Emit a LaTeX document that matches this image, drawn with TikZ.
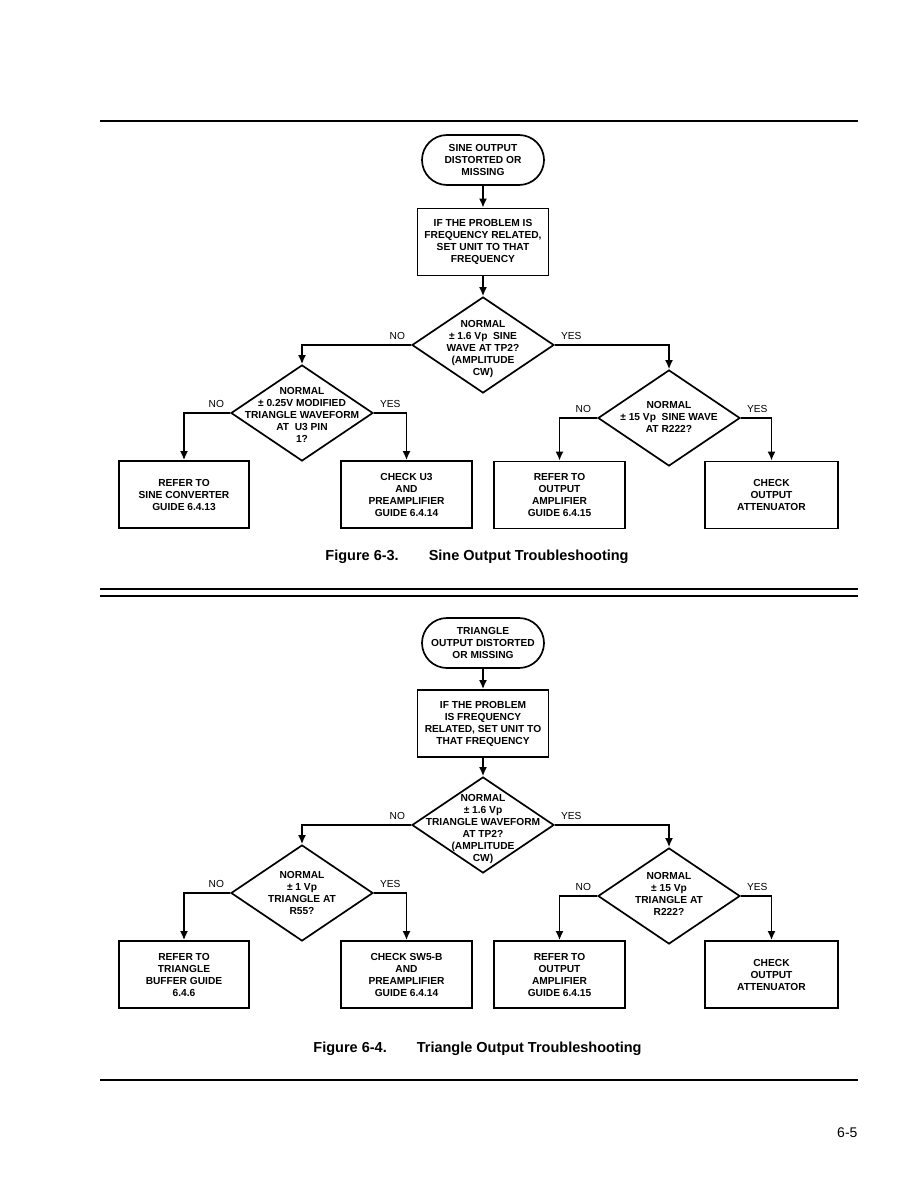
\documentclass[tikz,border=0pt]{standalone}
\usepackage{fontspec}
\setmainfont{Liberation Sans}
\usetikzlibrary{shapes.geometric, shapes.misc, arrows.meta, positioning}

\begin{document}
\begin{tikzpicture}[x=1pt, y=-1pt,
    flowtext/.style={font=\fontsize{10.2}{12}\selectfont\bfseries, align=center},
    term/.style={flowtext, draw, line width=1.7pt, rounded rectangle, minimum width=122pt, minimum height=50pt, inner sep=0pt},
    procbox/.style={flowtext, draw, line width=1.8pt, minimum width=131pt, minimum height=67pt, inner sep=0pt},
    decision/.style={draw, diamond, line width=1.7pt, minimum width=142pt, minimum height=96pt, inner sep=0pt},
    yesno/.style={font=\fontsize{10.2}{12}\selectfont},
    arr/.style={line width=1.7pt, -{Latex[length=9pt, width=8pt]}},
    rule/.style={line width=1.9pt},
    caption/.style={font=\fontsize{14.5}{16}\selectfont\bfseries}]

\useasboundingbox (0,0) rectangle (918,1188);

% Rules
\draw[rule] (100,121) -- (858,121);
\draw[rule] (100,589) -- (858,589);
\draw[rule] (100,596) -- (858,596);
\draw[rule] (100,1080) -- (858,1080);

% Figure 6-3: sine output
\node[term] (sinestart) at (483,160) {SINE OUTPUT\\DISTORTED OR\\MISSING};
\node[procbox] (sinefreq) at (483,242) {IF THE PROBLEM IS\\FREQUENCY RELATED,\\SET UNIT TO THAT\\FREQUENCY};
\node[decision] (sinetp) at (483,345) {};
\node[flowtext] (sinetptext) at (483,349) {NORMAL\\± 1.6 Vp\ \ SINE\\WAVE AT TP2?\\(AMPLITUDE\\CW)};
\node[decision] (sineu) at (302,413) {};
\node[flowtext] (sineutext) at (302,415) {NORMAL\\± 0.25V MODIFIED\\TRIANGLE WAVEFORM\\AT\ \ U3 PIN\\1?};
\node[decision] (siner) at (669,418) {};
\node[flowtext] (sinertext) at (669,417) {NORMAL\\± 15 Vp\ \ SINE WAVE\\AT R222?};

\node[procbox, minimum width=130pt] (sineconv) at (184,494.5) {REFER TO\\SINE CONVERTER\\GUIDE 6.4.13};
\node[procbox] (sinepre) at (406.5,494.5) {CHECK U3\\AND\\PREAMPLIFIER\\GUIDE 6.4.14};
\node[procbox] (sineamp) at (559.5,495) {REFER TO\\OUTPUT\\AMPLIFIER\\GUIDE 6.4.15};
\node[procbox, minimum width=133pt] (sineatt) at (771.5,495) {CHECK\\OUTPUT\\ATTENUATOR};

\draw[arr] (sinestart) -- (sinefreq);
\draw[arr] (sinefreq) -- (sinetp);
\draw[arr] (sinetp.west) -| node[yesno, pos=0, anchor=south east, xshift=-2pt, yshift=1pt] {NO} (sineu.north);
\draw[arr] (sinetp.east) -| node[yesno, pos=0, anchor=south west, xshift=2pt, yshift=1pt] {YES} (siner.north);
\draw[arr] (sineu.west) -| node[yesno, pos=0, anchor=south east, xshift=-2pt, yshift=1pt] {NO} (sineconv.north);
\draw[arr] (sineu.east) -| node[yesno, pos=0, anchor=south west, xshift=2pt, yshift=1pt] {YES} (sinepre.north);
\draw[arr] (siner.west) -| node[yesno, pos=0, anchor=south east, xshift=-2pt, yshift=1pt] {NO} (sineamp.north);
\draw[arr] (siner.east) -| node[yesno, pos=0, anchor=south west, xshift=2pt, yshift=1pt] {YES} (sineatt.north);

\node[caption] (sinecap) at (477,557) {Figure 6-3.\hspace{30pt}Sine Output Troubleshooting};

% Figure 6-4: triangle output
\node[term] (tristart) at (483,643) {TRIANGLE\\OUTPUT DISTORTED\\OR MISSING};
\node[procbox] (trifreq) at (483,723.5) {IF THE PROBLEM\\IS FREQUENCY\\RELATED, SET UNIT TO\\THAT FREQUENCY};
\node[decision] (tritp) at (483,825) {};
\node[flowtext] (tritptext) at (483,829) {NORMAL\\± 1.6 Vp\\TRIANGLE WAVEFORM\\AT TP2?\\(AMPLITUDE\\CW)};
\node[decision] (trir55) at (302,893) {};
\node[flowtext] (trir55text) at (302,893) {NORMAL\\± 1 Vp\\TRIANGLE AT\\R55?};
\node[decision] (trir) at (669,896) {};
\node[flowtext] (trirtext) at (669,894) {NORMAL\\± 15 Vp\\TRIANGLE AT\\R222?};

\node[procbox, minimum width=130pt] (tribuf) at (184,974.5) {REFER TO\\TRIANGLE\\BUFFER GUIDE\\6.4.6};
\node[procbox] (tripre) at (406.5,974.5) {CHECK SW5-B\\AND\\PREAMPLIFIER\\GUIDE 6.4.14};
\node[procbox] (triamp) at (559.5,974.5) {REFER TO\\OUTPUT\\AMPLIFIER\\GUIDE 6.4.15};
\node[procbox, minimum width=133pt] (triatt) at (771.5,974.5) {CHECK\\OUTPUT\\ATTENUATOR};

\draw[arr] (tristart) -- (trifreq);
\draw[arr] (trifreq) -- (tritp);
\draw[arr] (tritp.west) -| node[yesno, pos=0, anchor=south east, xshift=-2pt, yshift=1pt] {NO} (trir55.north);
\draw[arr] (tritp.east) -| node[yesno, pos=0, anchor=south west, xshift=2pt, yshift=1pt] {YES} (trir.north);
\draw[arr] (trir55.west) -| node[yesno, pos=0, anchor=south east, xshift=-2pt, yshift=1pt] {NO} (tribuf.north);
\draw[arr] (trir55.east) -| node[yesno, pos=0, anchor=south west, xshift=2pt, yshift=1pt] {YES} (tripre.north);
\draw[arr] (trir.west) -| node[yesno, pos=0, anchor=south east, xshift=-2pt, yshift=1pt] {NO} (triamp.north);
\draw[arr] (trir.east) -| node[yesno, pos=0, anchor=south west, xshift=2pt, yshift=1pt] {YES} (triatt.north);

\node[caption] (tricap) at (477.5,1049) {Figure 6-4.\hspace{30pt}Triangle Output Troubleshooting};

% Page number
\node[font=\fontsize{14}{16}\selectfont, anchor=east] (pagenum) at (861,1133) {6-5};

\end{tikzpicture}
\end{document}
